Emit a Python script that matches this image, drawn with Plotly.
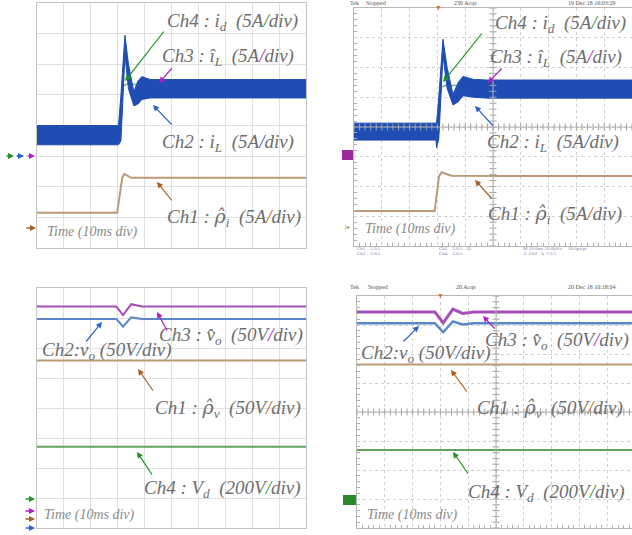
import numpy as np
import plotly.graph_objects as go

W, H = 632, 535

# ---------------- data (divisions) ----------------
# Panel 1 (simulation, current)
t1 = [0, 3.03, 3.12, 3.27, 3.4, 3.6, 3.75, 3.9, 4.2, 4.6, 10]
iL1_up = [4.0, 4.0, 5.0, 6.95, 6.0, 5.1, 5.45, 5.6, 5.5, 5.5, 5.5]
iL1_lo = [3.37, 3.37, 3.5, 6.3, 5.2, 4.64, 4.7, 4.85, 4.9, 4.9, 4.9]
iLhat1 = [3.68, 3.68, 4.3, 6.7, 5.6, 4.85, 5.1, 5.25, 5.2, 5.2, 5.2]
t1_id = [0, 3.03, 3.2, 3.35, 10]
id1 = [3.68, 3.68, 5.3, 5.35, 5.2]
t1_rho = [0, 2.98, 3.17, 3.25, 3.5, 10]
rho1 = [1.15, 1.15, 2.3, 2.42, 2.29, 2.29]

# Panel 2 (experiment, current)
t2 = [0, 2.95, 2.97, 3.05, 3.2, 3.35, 3.56, 3.75, 3.92, 4.3, 4.8, 10]
iL2_up = [4.13, 4.13, 4.13, 5.0, 6.95, 6.0, 5.1, 5.5, 5.7, 5.6, 5.58, 5.58]
iL2_lo = [3.56, 3.56, 3.3, 3.6, 6.4, 5.3, 4.74, 4.85, 5.05, 5.0, 4.97, 4.97]
iLhat2 = [3.85, 3.85, 3.85, 4.3, 6.7, 5.6, 4.9, 5.2, 5.35, 5.3, 5.27, 5.27]
t2_id = [0, 2.95, 3.15, 3.3, 10]
id2 = [3.85, 3.85, 5.35, 5.4, 5.27]
t2_rho = [0, 2.9, 3.06, 3.15, 3.5, 10]
rho2 = [1.18, 1.18, 2.35, 2.48, 2.36, 2.35]

# Panel 3 (simulation, voltage)
t3 = [0, 2.95, 3.2, 3.5, 3.9, 10]
vhat3 = [7.38, 7.38, 7.1, 7.46, 7.38, 7.38]
vo3 = [6.97, 6.97, 6.71, 7.02, 6.97, 6.97]
rhov3 = [5.58, 5.58, 5.58, 5.58, 5.58, 5.58]
vd3 = [2.71, 2.71, 2.71, 2.71, 2.71, 2.71]

# Panel 4 (experiment, voltage)
t4 = [0, 2.8, 3.1, 3.45, 3.8, 4.2, 10]
vhat4 = [7.45, 7.45, 7.07, 7.55, 7.4, 7.45, 7.45]
vo4 = [7.06, 7.06, 6.75, 7.12, 7.02, 7.06, 7.06]
rhov4 = [5.64, 5.64, 5.64, 5.62, 5.64, 5.64, 5.64]
vd4 = [2.69, 2.69, 2.69, 2.69, 2.69, 2.69, 2.69]

# ---------------- style ----------------
BLUE_BAND = "#1f4db3"
PURPLE = "#a64fb8"
BLUE = "#5b86c8"
BROWN = "#bd9a76"
GREEN = "#5fa35f"
TXT = "#6e6e6e"
SERIF = "Liberation Serif, Times New Roman, serif"


def px(x):
    return x / W


def py(y):
    return 1 - y / H


fig = go.Figure()


def line(xs, ys, color, width, ax):
    fig.add_trace(go.Scatter(x=xs, y=ys, mode="lines", line=dict(color=color, width=width),
                             xaxis="x" + ax, yaxis="y" + ax, hoverinfo="skip", showlegend=False))


def band(xs, lo, up, ax):
    fig.add_trace(go.Scatter(x=xs, y=lo, mode="lines", line=dict(color=BLUE_BAND, width=1),
                             xaxis="x" + ax, yaxis="y" + ax, hoverinfo="skip", showlegend=False))
    fig.add_trace(go.Scatter(x=xs, y=up, mode="lines", line=dict(color=BLUE_BAND, width=1),
                             fill="tonexty", fillcolor=BLUE_BAND,
                             xaxis="x" + ax, yaxis="y" + ax, hoverinfo="skip", showlegend=False))


# panel 1
line(t1_rho, rho1, BROWN, 2, "")
line(t1_id, id1, "#7fae7f", 1.5, "")
line(t1, iLhat1, PURPLE, 1.5, "")
band(t1, iL1_lo, iL1_up, "")
# panel 2
line(t2_rho, rho2, BROWN, 2, "2")
line(t2_id, id2, "#7fae7f", 1.5, "2")
line(t2, iLhat2, PURPLE, 1.5, "2")
band(t2, iL2_lo, iL2_up, "2")
# panel 3
line(t3, vd3, GREEN, 2, "3")
line(t3, rhov3, BROWN, 2, "3")
line(t3, vo3, BLUE, 2, "3")
line(t3, vhat3, PURPLE, 2, "3")
# panel 4
line(t4, vd4, GREEN, 2, "4")
line(t4, rhov4, BROWN, 2, "4")
line(t4, vo4, BLUE, 2.5, "4")
line(t4, vhat4, PURPLE, 3, "4")

# scope center-line ticks (decoration)
tk_x = np.arange(0, 10.01, 0.2)
tk_y = np.arange(0, 8.01, 0.2)
for ax in ["2", "4"]:
    fig.add_trace(go.Scatter(x=tk_x, y=[4] * len(tk_x), mode="markers",
                             marker=dict(symbol="line-ns", size=5, line=dict(color="#a0a0a0", width=1)),
                             xaxis="x" + ax, yaxis="y" + ax, hoverinfo="skip", showlegend=False))
    fig.add_trace(go.Scatter(x=[5] * len(tk_y), y=tk_y, mode="markers",
                             marker=dict(symbol="line-ew", size=5, line=dict(color="#a0a0a0", width=1)),
                             xaxis="x" + ax, yaxis="y" + ax, hoverinfo="skip", showlegend=False))

doms = {
    "": ([px(37), px(306)], [py(248), py(3)], 10),
    "2": ([px(354), 1.0], [py(246), py(8)], 10),
    "3": ([px(37), px(306)], [py(528), py(288)], 10),
    "4": ([px(357), 1.0], [py(528), py(296)], 10 * (632 - 357) / (635 - 357)),
}
lay = {}
for ax, (dx, dy, xmax) in doms.items():
    scope = ax in ("2", "4")
    common = dict(showticklabels=False, zeroline=False, showline=True, mirror=True,
                  linecolor="#b8b8b8" if scope else "#c4c4c4", linewidth=1,
                  showgrid=True, gridcolor="#cfcfcf" if scope else "#e0e0e0",
                  griddash="dot" if scope else "solid", gridwidth=1,
                  ticks="", fixedrange=True)
    xa = dict(common, domain=dx, range=[0, xmax], dtick=1, tick0=0)
    ya = dict(common, domain=dy, range=[0, 8], dtick=1, tick0=0)
    if scope:
        mn = dict(ticks="inside", ticklen=3, tickcolor="#b0b0b0", showgrid=False, dtick=0.2)
        xa["minor"] = mn
        ya["minor"] = mn
    xa["anchor"] = "y" + ax
    ya["anchor"] = "x" + ax
    lay["xaxis" + ax] = xa
    lay["yaxis" + ax] = ya

fig.update_layout(width=W, height=H, margin=dict(l=0, r=0, t=0, b=0, autoexpand=False),
                  paper_bgcolor="white", plot_bgcolor="white", showlegend=False, **lay)

# center cross lines on scope screens
for ax in ("2", "4"):
    fig.add_shape(type="line", xref="x" + ax, yref="y" + ax, x0=5, x1=5, y0=0, y1=8,
                  line=dict(color="#b4b4b4", width=1))
    fig.add_shape(type="line", xref="x" + ax, yref="y" + ax, x0=0, x1=10, y0=4, y1=4,
                  line=dict(color="#b4b4b4", width=1))

ann = []


def label(text, x_px, y_px, anchor="right", size=19, color=TXT):
    ann.append(dict(text=text, x=px(x_px), y=py(y_px), xref="paper", yref="paper",
                    xanchor=anchor, yanchor="middle", showarrow=False,
                    font=dict(family=SERIF, size=size, color=color)))


def arrow(tail, head, color, width=1.2, size=1.0):
    ann.append(dict(text="", x=px(head[0]), y=py(head[1]), xref="paper", yref="paper",
                    ax=tail[0] - head[0], ay=tail[1] - head[1], axref="pixel", ayref="pixel",
                    showarrow=True, arrowhead=2, arrowsize=size, arrowwidth=width, arrowcolor=color))


def slash(c):
    return "<span style='color:%s'>/</span>" % c


RHO = "<span style='font-family:DejaVu Serif'>ρ̂</span>"
GS, PS, BS, RS = "#2f9a2f", "#b02cc0", "#2a62cc", "#c0661a"
DY = 1

# ----- panel 1 labels -----
label("<i>Ch4 : i<sub>d</sub>  (5A" + slash(GS) + "div)</i>", 300, 21 + DY)
label("<i>Ch3 : î<sub>L</sub>  (5A" + slash(PS) + "div)</i>", 296, 56 + DY)
label("<i>Ch2 : i<sub>L</sub>  (5A" + slash(BS) + "div)</i>", 296, 142 + DY)
label("<i>Ch1 : " + RHO + "<sub>i</sub>  (5A" + slash(RS) + "div)</i>", 303, 216 + DY)
label("<i>Time (10ms div)</i>", 45, 232, anchor="left", size=14, color="#8a8a8a")
arrow((165, 30), (125, 81), "#1e951e")
arrow((173, 67), (159, 83), "#b020c0")
arrow((173, 126), (153, 105), "#2a62cc")
arrow((173, 202), (157, 182), "#a85e22")
arrow((5, 156), (14, 156), "#1e951e", 1.5, 0.8)
arrow((15, 156), (24, 156), "#2a62cc", 1.5, 0.8)
arrow((26, 156), (35, 156), "#b020c0", 1.5, 0.8)
arrow((25, 228), (36, 228), "#a85e22", 1.5, 0.8)

# ----- panel 2 labels -----
label("<i>Ch4 : i<sub>d</sub>  (5A" + slash(GS) + "div)</i>", 628, 23 + DY)
label("<i>Ch3 : î<sub>L</sub>  (5A" + slash(PS) + "div)</i>", 624, 57 + DY)
label("<i>Ch2 : i<sub>L</sub>  (5A" + slash(BS) + "div)</i>", 621, 142 + DY)
label("<i>Ch1 : " + RHO + "<sub>i</sub>  (5A" + slash(RS) + "div)</i>", 624, 213 + DY)
label("<i>Time (10ms div)</i>", 363, 229, anchor="left", size=14, color="#8a8a8a")
arrow((483, 32), (443, 82), "#1e951e")
arrow((503, 67), (488, 83), "#b020c0")
arrow((494, 127), (475, 106), "#2a62cc")
arrow((493, 200), (475, 180), "#a85e22")
for txt, x in (("Tek", 348), ("Stopped", 364), ("230 Acqs", 452), ("19 Dec 18 16:03:29", 566)):
    label(txt, x, 3, anchor="left", size=6, color="#555")
for txt, x, y in (("Ch1    5.0A", 355, 248), ("Ch3    5.0A", 355, 253), ("Ch2    5.0A    Ω", 437, 248),
                  ("Ch4    5.0A", 437, 253), ("M 10.0ms 50.0kS/s     20.0ps/pt", 521, 248),
                  ("A  Ch2  ↘  7.2A", 521, 253)):
    label(txt, x, y, anchor="left", size=5, color="#8a7ab0")
label("▼", 438, 8, anchor="center", size=7, color="#e07020")
label("1▸", 347, 227, anchor="center", size=6, color="#b08a5a")
fig.add_shape(type="rect", xref="paper", yref="paper", x0=px(342), x1=px(353), y0=py(160), y1=py(150),
              fillcolor="#9b2a9b", line=dict(width=0))

# ----- panel 3 labels -----
label("<i>Ch3 : v̂<sub>o</sub>  (50V" + slash(PS) + "div)</i>", 305, 335 + DY)
label("<i>Ch2:v<sub>o</sub> (50V" + slash(BS) + "div)</i>", 40, 350 + DY, anchor="left")
label("<i>Ch1 : " + RHO + "<sub>v</sub>  (50V" + slash(RS) + "div)</i>", 303, 407 + DY)
label("<i>Ch4 : V<sub>d</sub>  (200V" + slash(GS) + "div)</i>", 303, 488 + DY)
label("<i>Time (10ms div)</i>", 42, 515, anchor="left", size=14, color="#8a8a8a")
arrow((85, 343), (102, 322), "#2a62cc")
arrow((168, 332), (157, 312), "#b020c0")
arrow((154, 392), (138, 369), "#a85e22")
arrow((153, 476), (137, 452), "#1e951e")
arrow((24, 499), (35, 499), "#1e951e", 1.5, 0.8)
arrow((24, 511), (35, 511), "#b020c0", 1.5, 0.8)
arrow((24, 519), (35, 519), "#a85e22", 1.5, 0.8)
arrow((24, 528), (35, 528), "#2a62cc", 1.5, 0.8)

# ----- panel 4 labels -----
label("<i>Ch3 : v̂<sub>o</sub>  (50V" + slash(PS) + "div)</i>", 631, 340 + DY)
label("<i>Ch2:v<sub>o</sub> (50V" + slash(BS) + "div)</i>", 359, 353 + DY, anchor="left")
label("<i>Ch1 : " + RHO + "<sub>v</sub>  (50V" + slash(RS) + "div)</i>", 625, 407 + DY)
label("<i>Ch4 : V<sub>d</sub>  (200V" + slash(GS) + "div)</i>", 627, 492 + DY)
label("<i>Time (10ms div)</i>", 365, 515, anchor="left", size=14, color="#8a8a8a")
arrow((402, 343), (419, 326), "#2a62cc")
arrow((496, 330), (483, 316), "#b020c0")
arrow((468, 393), (451, 370), "#a85e22")
arrow((469, 475), (453, 452), "#1e951e")
for txt, x in (("Tek", 348), ("Stopped", 366), ("20 Acqs", 454), ("20 Dec 18 10:18:04", 566)):
    label(txt, x, 287, anchor="left", size=6, color="#555")
label("▼", 440, 296, anchor="center", size=7, color="#e07020")
fig.add_shape(type="rect", xref="paper", yref="paper", x0=px(343), x1=px(356), y0=py(505), y1=py(495),
              fillcolor="#2a8a2a", line=dict(width=0))

fig.update_layout(annotations=ann)
fig.write_html("out.html", config={"displayModeBar": False},
               post_script="document.body.style.margin='0';")
